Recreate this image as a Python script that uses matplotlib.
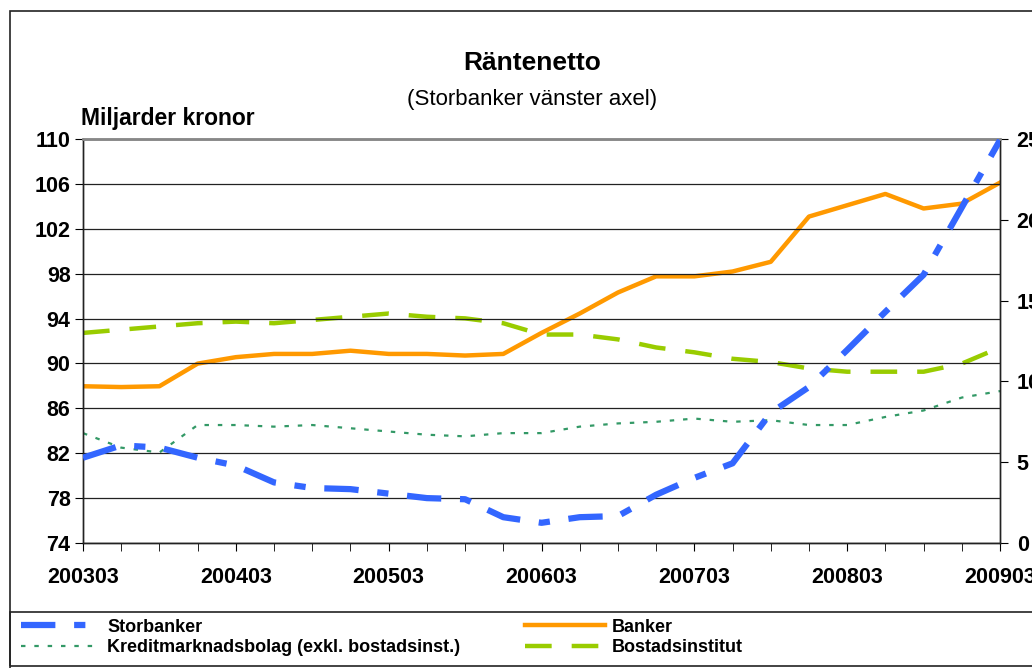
from matplotlib import pyplot as plt
from matplotlib.patches import Rectangle
import numpy as np

# quarterly data, 2003Q1 .. 2009Q1
quarters = ["200303", "200306", "200309", "200312",
            "200403", "200406", "200409", "200412",
            "200503", "200506", "200509", "200512",
            "200603", "200606", "200609", "200612",
            "200703", "200706", "200709", "200712",
            "200803", "200806", "200809", "200812",
            "200903"]

# left axis
storbanker = [81.6, 82.7, 82.5, 81.6, 80.9, 79.4, 78.9, 78.8,
              78.4, 78.0, 77.9, 76.3, 75.8, 76.3, 76.4, 78.3,
              79.8, 81.1, 85.6, 87.9, 91.2, 94.6, 97.9, 103.9, 109.9]

# right axis
banker = [9.7, 9.65, 9.7, 11.1, 11.5, 11.7, 11.7, 11.9,
          11.7, 11.7, 11.6, 11.7, 13.0, 14.2, 15.5, 16.5,
          16.5, 16.8, 17.4, 20.2, 20.9, 21.6, 20.7, 21.0, 22.3]
kreditmarknadsbolag = [6.8, 5.9, 5.6, 7.3, 7.3, 7.2, 7.3, 7.1,
                       6.9, 6.7, 6.6, 6.8, 6.8, 7.2, 7.4, 7.5,
                       7.7, 7.5, 7.6, 7.3, 7.3, 7.8, 8.2, 9.0, 9.4]
bostadsinstitut = [13.0, 13.2, 13.4, 13.6, 13.7, 13.6, 13.8, 14.0,
                   14.2, 14.0, 13.9, 13.6, 12.9, 12.9, 12.6, 12.1,
                   11.8, 11.4, 11.2, 10.8, 10.6, 10.6, 10.6, 11.1, 12.1]

left_ticks = [74, 78, 82, 86, 90, 94, 98, 102, 106, 110]
right_ticks = [0, 5, 10, 15, 20, 25]


def main():
    plt.rcParams['font.family'] = ['Liberation Sans', 'DejaVu Sans']

    fig = plt.figure(figsize=(10.32, 6.68), dpi=100)
    ax = fig.add_axes([83 / 1032, 125 / 668, 917 / 1032, 404 / 668])
    ax2 = ax.twinx()

    x = np.arange(len(quarters))

    ax.set_ylim(74, 110)
    ax.set_yticks(left_ticks)
    ax.grid(axis='y', color='#222222', lw=0.9)
    ax.set_axisbelow(True)
    ax.set_xlim(0, len(quarters) - 1)
    ax.set_xticks(x[::4])
    ax.set_xticklabels(quarters[::4])
    ax.set_xticks(x, minor=True)
    ax.tick_params(axis='x', which='both', length=6, direction='out', pad=11,
                   labelsize=15.5)
    ax.tick_params(axis='y', length=6, direction='out', pad=3, labelsize=15.5)
    for lab in ax.get_xticklabels() + ax.get_yticklabels():
        lab.set_fontweight('bold')

    ax2.set_ylim(0, 25)
    ax2.set_yticks(right_ticks)
    ax2.tick_params(axis='y', length=6, direction='out', pad=6, labelsize=15.5)
    for lab in ax2.get_yticklabels():
        lab.set_fontweight('bold')

    for a in (ax, ax2):
        for s in a.spines.values():
            s.set_color('#222222')
            s.set_linewidth(1)
    ax.spines['top'].set_color('#888888')
    ax.spines['top'].set_linewidth(2)

    l_kredit, = ax2.plot(x, kreditmarknadsbolag, color='#339966', lw=1.6,
                         dashes=(2, 4), label='Kreditmarknadsbolag (exkl. bostadsinst.)')
    l_bost, = ax2.plot(x, bostadsinstitut, color='#99CC00', lw=3.2,
                       dashes=(6, 4.5), label='Bostadsinstitut')
    l_bank, = ax2.plot(x, banker, color='#FF9900', lw=3.2, label='Banker')
    l_stor, = ax2.plot([], [], color='#3366FF', lw=4.5, dashes=(5.5, 3, 1.8, 3),
                       label='Storbanker')
    ax.plot(x, storbanker, color='#3366FF', lw=4.5, dashes=(5.5, 3, 1.8, 3),
            zorder=5)
    ax.set_zorder(ax2.get_zorder() + 1)
    ax.patch.set_visible(False)

    fig.text(0.516, 1 - 63 / 668, "Räntenetto", ha='center', va='center',
             fontsize=19, fontweight='bold')
    fig.text(0.516, 1 - 99 / 668, "(Storbanker vänster axel)", ha='center',
             va='center', fontsize=16)
    fig.text(81 / 1032, 1 - 119 / 668, "Miljarder kronor", ha='left',
             va='center', fontsize=16.5, fontweight='bold')

    # outer frame and legend box
    fig.patches.append(Rectangle((10 / 1032, -0.05), 1.2, 1.05 - 11 / 668,
                                 transform=fig.transFigure, fill=False,
                                 edgecolor='#222222', lw=1.2))
    fig.patches.append(Rectangle((10 / 1032, 2 / 668), 1.2, 54 / 668,
                                 transform=fig.transFigure, fill=False,
                                 edgecolor='#222222', lw=1.2))

    handles = [l_stor, l_kredit, l_bank, l_bost]
    fig.legend(handles, [h.get_label() for h in handles],
               ncol=2, loc='upper left',
               bbox_to_anchor=(8 / 1032, 1 - 606 / 668),
               frameon=False, handlelength=4.4, handletextpad=0.4,
               columnspacing=3.6, labelspacing=0.2, borderpad=0.2,
               prop={'weight': 'bold', 'size': 13})

    fig.savefig("out.png", dpi=100)


if __name__ == '__main__':
    main()
